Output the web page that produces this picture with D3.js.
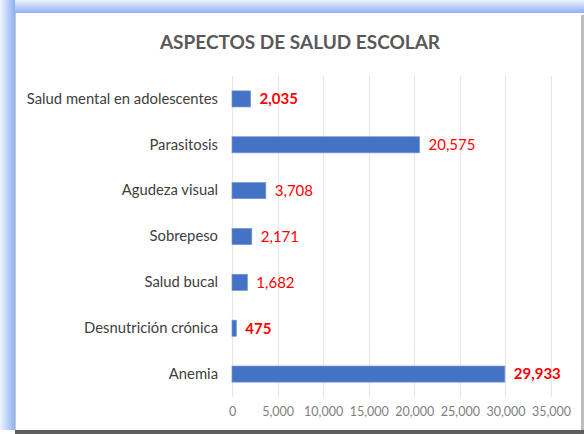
<!DOCTYPE html>
<html>
<head>
<meta charset="utf-8">
<script src="https://cdn.jsdelivr.net/npm/d3@7"></script>
<style>
  body { margin: 0; background: #fff; }
  svg text { font-family: Lato, "Open Sans", sans-serif; }
</style>
</head>
<body>
<svg id="chart"></svg>
<script>
var width = 584,
    height = 434;

// data
var categories = ['Salud mental en adolescentes', 'Parasitosis', 'Agudeza visual',
                  'Sobrepeso', 'Salud bucal', 'Desnutrición crónica', 'Anemia'];
var values = [2035, 20575, 3708, 2171, 1682, 475, 29933];
var boldLabels = [true, false, false, false, false, true, true];
var tickValues = [0, 5000, 10000, 15000, 20000, 25000, 30000, 35000];

var svg = d3.select('#chart')
  .attr('width', width)
  .attr('height', height);

var defs = svg.append('defs');
var gTop = defs.append('linearGradient').attr('id', 'glowTop')
  .attr('x1', 0).attr('y1', 0).attr('x2', 0).attr('y2', 1);
gTop.append('stop').attr('offset', '0%').attr('stop-color', '#eef3fe');
gTop.append('stop').attr('offset', '100%').attr('stop-color', '#8eb0f4');
var gLeft = defs.append('linearGradient').attr('id', 'glowLeft')
  .attr('x1', 0).attr('y1', 0).attr('x2', 1).attr('y2', 0);
gLeft.append('stop').attr('offset', '0%').attr('stop-color', '#eef3fe');
gLeft.append('stop').attr('offset', '100%').attr('stop-color', '#8eb0f4');

// frame: blue glow top / left, grey shadow bottom / right
svg.append('rect').attr('x', 0).attr('y', 0).attr('width', width).attr('height', height).attr('fill', '#fff');
svg.append('rect').attr('x', 0).attr('y', 0).attr('width', width).attr('height', 13).attr('fill', 'url(#glowTop)');
svg.append('rect').attr('x', 0).attr('y', 0).attr('width', 15).attr('height', 430).attr('fill', 'url(#glowLeft)');
svg.append('rect').attr('x', 15).attr('y', 430).attr('width', width - 15).attr('height', 4).attr('fill', '#5f5f5f');
svg.append('rect').attr('x', 581).attr('y', 15).attr('width', 3).attr('height', 415).attr('fill', '#bdbdbd');
svg.append('rect').attr('x', 15).attr('y', 13).attr('width', 566).attr('height', 417).attr('fill', '#fff');
svg.append('line').attr('x1', 15.5).attr('x2', 15.5).attr('y1', 13).attr('y2', 430)
  .attr('stroke', '#c8c8c8').attr('stroke-width', 1);

svg.append('text')
  .attr('x', 300)
  .attr('y', 49)
  .attr('text-anchor', 'middle')
  .attr('fill', '#595959')
  .style('font-size', '19px')
  .style('font-weight', 'bold')
  .text('ASPECTOS DE SALUD ESCOLAR');

var x = d3.scaleLinear()
  .domain([0, 35000])
  .range([232, 551]);

var y = d3.scaleBand()
  .domain(categories)
  .range([76, 397])
  .paddingInner(0.65)
  .paddingOuter(0.325);

// gridlines
svg.append('g').selectAll('line')
  .data(tickValues)
  .enter()
  .append('line')
  .attr('x1', d => Math.round(x(d)) + 0.5)
  .attr('x2', d => Math.round(x(d)) + 0.5)
  .attr('y1', 76)
  .attr('y2', 397)
  .style('stroke', '#e6e6e6')
  .style('stroke-width', 1.2);

// x axis labels
var xAxis = d3.axisBottom(x)
  .tickValues(tickValues)
  .tickSize(0)
  .tickPadding(0)
  .tickFormat(d3.format(','));
var gx = svg.append('g')
  .attr('transform', 'translate(0,407)')
  .call(xAxis);
gx.select('.domain').remove();
gx.selectAll('text')
  .attr('fill', '#7f7f7f')
  .style('font-size', '12.5px')
  .style('font-family', 'Lato, "Open Sans", sans-serif');

// y axis labels
var yAxis = d3.axisLeft(y).tickSize(0).tickPadding(14);
var gy = svg.append('g')
  .attr('transform', 'translate(232,0)')
  .call(yAxis);
gy.select('.domain').remove();
gy.selectAll('text')
  .attr('fill', '#404040')
  .style('font-size', '14.8px')
  .style('font-family', 'Lato, "Open Sans", sans-serif');

// bars
svg.append('g').selectAll('rect')
  .data(values)
  .enter()
  .append('rect')
  .attr('x', x(0))
  .attr('y', (d, i) => y(categories[i]))
  .attr('width', d => x(d) - x(0))
  .attr('height', y.bandwidth())
  .style('fill', '#4472c4')
  .style('stroke', '#6f93d6')
  .style('stroke-width', 0.7);

// value labels
svg.append('g').selectAll('text')
  .data(values)
  .enter()
  .append('text')
  .attr('x', d => x(d) + 9)
  .attr('y', (d, i) => y(categories[i]) + y.bandwidth() / 2)
  .attr('dy', '0.36em')
  .attr('fill', '#ff0000')
  .style('font-size', '15px')
  .style('font-weight', (d, i) => boldLabels[i] ? 'bold' : 'normal')
  .text(d => d3.format(',')(d));
</script>
</body>
</html>
